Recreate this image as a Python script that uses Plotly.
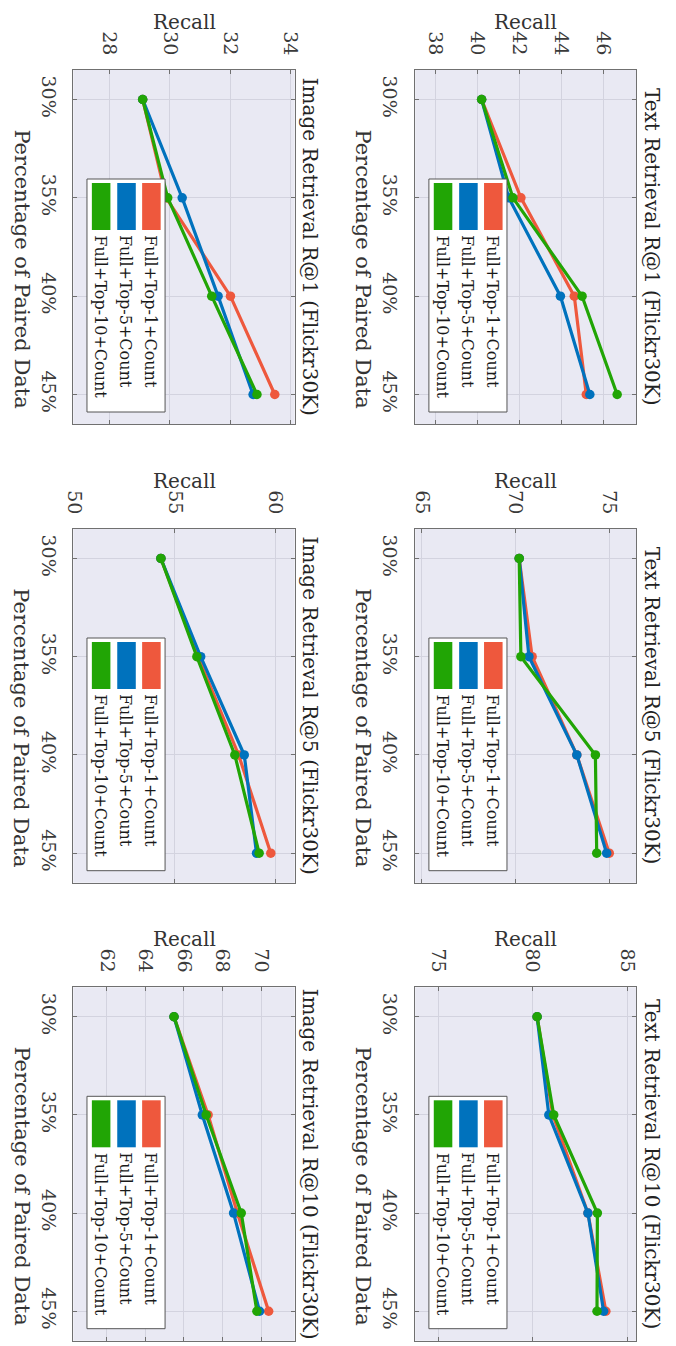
import plotly.graph_objects as go

# ---------------- data ----------------
percent = [30, 35, 40, 45]
percent_labels = ["30%", "35%", "40%", "45%"]
series_names = ["Full+Top-1+Count", "Full+Top-5+Count", "Full+Top-10+Count"]
series_colors = ["#EE583D", "#0072BD", "#21A505"]

text_r1_top1 = [40.2, 42.07, 44.61, 45.18]
text_r1_top5 = [40.2, 41.49, 43.95, 45.35]
text_r1_top10 = [40.2, 41.69, 44.98, 46.65]

image_r1_top1 = [29.10, 29.88, 32.01, 33.48]
image_r1_top5 = [29.10, 30.41, 31.60, 32.76]
image_r1_top10 = [29.10, 29.93, 31.39, 32.89]

text_r5_top1 = [70.19, 70.88, 73.26, 74.99]
text_r5_top5 = [70.19, 70.71, 73.26, 74.85]
text_r5_top10 = [70.19, 70.28, 74.25, 74.32]

image_r5_top1 = [54.31, 56.16, 58.18, 59.78]
image_r5_top5 = [54.31, 56.29, 58.46, 59.07]
image_r5_top10 = [54.31, 56.10, 57.99, 59.20]

text_r10_top1 = [80.24, 81.07, 82.93, 83.88]
text_r10_top5 = [80.24, 80.86, 82.93, 83.76]
text_r10_top10 = [80.24, 81.12, 83.43, 83.41]

image_r10_top1 = [65.48, 67.25, 68.77, 70.39]
image_r10_top5 = [65.48, 66.95, 68.57, 69.92]
image_r10_top10 = [65.48, 67.15, 68.97, 69.78]

titles = [
    "Text Retrieval R@1 (Flickr30K)", "Image Retrieval R@1 (Flickr30K)",
    "Text Retrieval R@5 (Flickr30K)", "Image Retrieval R@5 (Flickr30K)",
    "Text Retrieval R@10 (Flickr30K)", "Image Retrieval R@10 (Flickr30K)",
]
recall_ticks = [
    [38, 40, 42, 44, 46], [28, 30, 32, 34],
    [65, 70, 75], [50, 55, 60],
    [75, 80, 85], [62, 64, 66, 68, 70],
]
recall_ranges = [
    [37.04, 47.57], [26.80, 34.14],
    [64.65, 76.44], [49.95, 60.97],
    [73.79, 85.50], [60.26, 71.74],
]
panel_series = [
    [text_r1_top1, text_r1_top5, text_r1_top10],
    [image_r1_top1, image_r1_top5, image_r1_top10],
    [text_r5_top1, text_r5_top5, text_r5_top10],
    [image_r5_top1, image_r5_top5, image_r5_top10],
    [text_r10_top1, text_r10_top5, text_r10_top10],
    [image_r10_top1, image_r10_top5, image_r10_top10],
]

# ---------------- layout geometry (page pixels) ----------------
OFF = 8  # default body margin of the html page
W, H = 676 - OFF, 1346 - OFF
col_text = (416, 642.7)
col_image = (65.7, 292.5)
rows = [(70, 424), (529, 882.7), (987.3, 1340.7)]
panel_boxes = []
for r in rows:
    panel_boxes.append((col_text, r))
    panel_boxes.append((col_image, r))

FONT = "DejaVu Serif"
BG = "#E9E9F3"
GRID = "#D3D3DF"
AXLINE = "#707070"


def fx(x):
    return (x - OFF) / W


def fy(y):
    return 1 - (y - OFF) / H


fig = go.Figure()
layout = dict(
    width=W, height=H, margin=dict(l=0, r=0, t=0, b=0),
    paper_bgcolor="white", plot_bgcolor=BG, showlegend=False,
    font=dict(family=FONT, color="#333333"),
)
shapes = []
annotations = []

for i in range(6):
    k = i + 1
    xa = "x" if k == 1 else f"x{k}"
    ya = "y" if k == 1 else f"y{k}"
    (x0, x1), (y0, y1) = panel_boxes[i]
    for name, color, vals in zip(series_names, series_colors, panel_series[i]):
        fig.add_trace(go.Scatter(
            x=vals, y=percent, mode="lines+markers", name=name,
            line=dict(color=color, width=3.2),
            marker=dict(size=9.5, color=color),
            xaxis=xa, yaxis=ya, showlegend=False,
        ))
    layout[f"xaxis{k}"] = dict(
        domain=[fx(x0), fx(x1)], range=recall_ranges[i], anchor=ya,
        side="top", tickmode="array", tickvals=recall_ticks[i],
        tickangle=90, ticks="inside", ticklen=4, tickcolor=AXLINE,
        showline=True, linecolor=AXLINE, linewidth=1, mirror="allticks",
        showgrid=True, gridcolor=GRID, gridwidth=1, zeroline=False,
        tickfont=dict(size=19, color="#3a3a3a", family=FONT),
        ticklabelstandoff=7,
    )
    layout[f"yaxis{k}"] = dict(
        domain=[fy(y1), fy(y0)], range=[46.5, 28.5], anchor=xa,
        tickmode="array", tickvals=percent, ticktext=percent_labels,
        tickangle=90, ticks="inside", ticklen=4, tickcolor=AXLINE,
        showline=True, linecolor=AXLINE, linewidth=1, mirror="allticks",
        showgrid=True, gridcolor=GRID, gridwidth=1, zeroline=False,
        tickfont=dict(size=19, color="#3a3a3a", family=FONT),
        ticklabelstandoff=8,
    )
    cx = (x0 + x1) / 2
    cy = (y0 + y1) / 2
    # panel title (rotated)
    annotations.append(dict(
        text=titles[i], x=fx(x1 + 16), y=fy(cy), xref="paper", yref="paper",
        showarrow=False, textangle=90, xanchor="center", yanchor="middle",
        font=dict(size=20, color="#222222", family=FONT),
    ))
    # Recall label
    annotations.append(dict(
        text="Recall", x=fx(cx), y=fy(y0 - 48), xref="paper", yref="paper",
        showarrow=False, xanchor="center", yanchor="middle",
        font=dict(size=20, color="#333333", family=FONT),
    ))
    # Percentage label
    annotations.append(dict(
        text="Percentage of Paired Data", x=fx(x0 - 53), y=fy(cy + 22),
        xref="paper", yref="paper", showarrow=False, textangle=90,
        xanchor="center", yanchor="middle",
        font=dict(size=21, color="#333333", family=FONT),
    ))
    # manual rotated legend
    bx0, bx1 = x0 + 14, x0 + 94
    by0, by1 = y0 + 109, y1 - 12
    shapes.append(dict(
        type="rect", xref="paper", yref="paper", layer="above",
        x0=fx(bx0), x1=fx(bx1), y0=fy(by0), y1=fy(by1),
        fillcolor="white", line=dict(color="#555555", width=1),
    ))
    patch_centers = [bx0 + 66, bx0 + 40.5, bx0 + 14.5]
    for pcx, color, name in zip(patch_centers, series_colors, series_names):
        shapes.append(dict(
            type="rect", xref="paper", yref="paper", layer="above",
            x0=fx(pcx - 9.5), x1=fx(pcx + 9.5), y0=fy(by0 + 4), y1=fy(by0 + 51),
            fillcolor=color, line=dict(width=0),
        ))
        annotations.append(dict(
            text=name, x=fx(pcx - 1), y=fy(by0 + 54), xref="paper", yref="paper",
            showarrow=False, textangle=90, xanchor="center", yanchor="top",
            font=dict(size=16, color="#1a1a1a", family=FONT),
        ))

layout["shapes"] = shapes
layout["annotations"] = annotations
fig.update_layout(**layout)
fig.write_html("out.html")
